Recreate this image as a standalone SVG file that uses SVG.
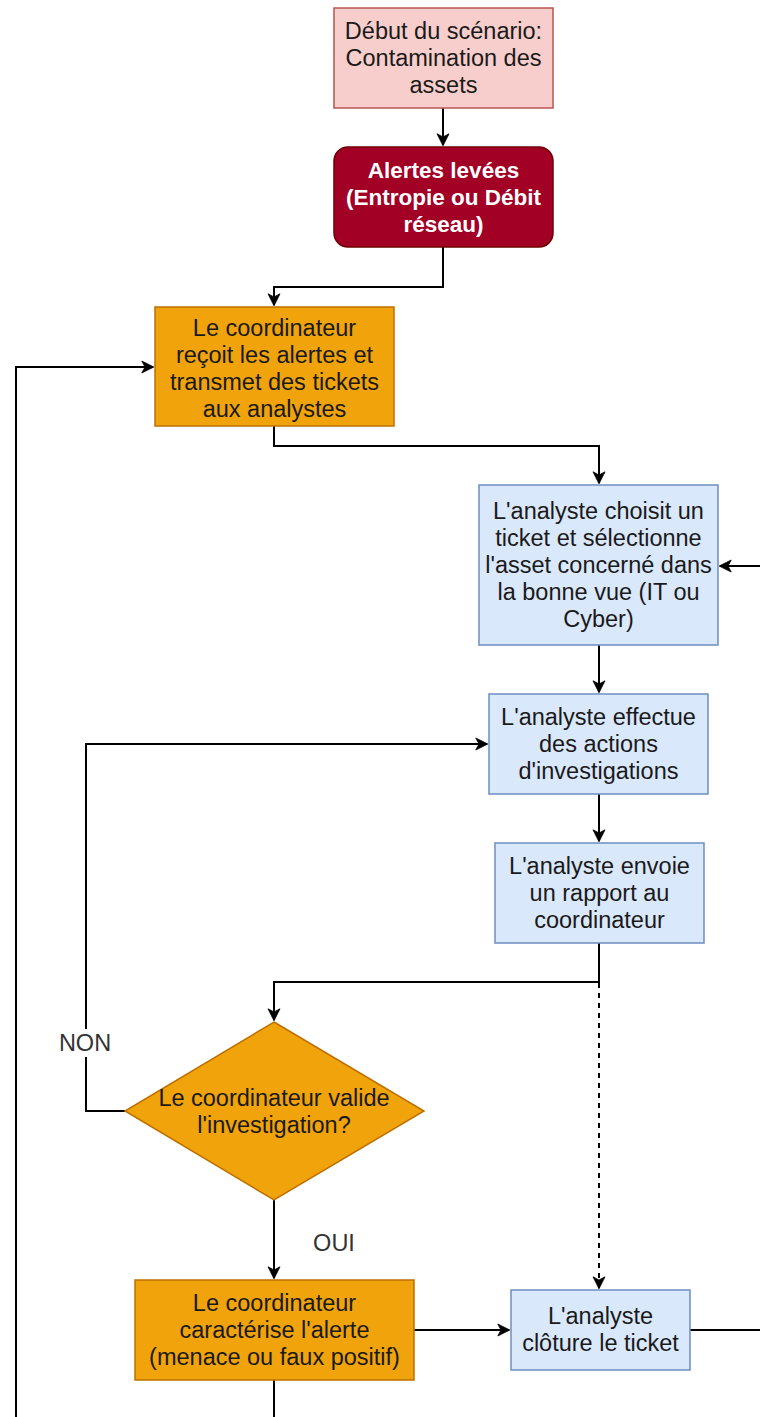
<svg xmlns="http://www.w3.org/2000/svg" width="760" height="1417" viewBox="0 0 760 1417">
<style>
text{font-family:"Liberation Sans",Arial,sans-serif;font-size:23.5px;text-anchor:middle;fill:#1a1a1a}
.pink{fill:#f8cecc;stroke:#b85450;stroke-width:1.5}
.red{fill:#a20025;stroke:#6f0000;stroke-width:1.5}
.orange{fill:#f0a30a;stroke:#bd7000;stroke-width:1.5}
.blue{fill:#dae8fc;stroke:#6c8ebf;stroke-width:1.5}
.w{fill:#ffffff;font-weight:bold;font-size:22.5px}
.lbl{fill:#333333}
.c{fill:none;stroke:#000;stroke-width:2;marker-end:url(#arr)}
.cn{fill:none;stroke:#000;stroke-width:2}
.d{stroke-dasharray:5 5}
</style>
<defs>
<marker id="arr" viewBox="0 0 10 10" refX="9" refY="5" markerWidth="8" markerHeight="8" markerUnits="userSpaceOnUse" orient="auto" overflow="visible">
<path d="M-5,-2.5 L10,5 L-5,12.5 L-1,5 Z" fill="#000" stroke="#000" stroke-width="1"/>
</marker>
</defs>
<g id="connectors">
<path class="c" d="M443,108 L443,145"/>
<path class="c" d="M443,247 L443,287 L274,287 L274,305"/>
<path class="c" d="M274,426 L274,446 L599,446 L599,483"/>
<path class="c" d="M762,566 L720,566"/>
<path class="c" d="M599,645 L599,692"/>
<path class="c" d="M599,794 L599,841"/>
<path class="c" d="M599,943 L599,982 L274,982 L274,1020"/>
<path class="c d" d="M599,943 L599,1288"/>
<path class="c" d="M125,1111 L86,1111 L86,744 L487,744"/>
<path class="c" d="M274,1200 L274,1278"/>
<path class="c" d="M414,1330 L509,1330"/>
<path class="cn" d="M690,1330 L762,1330"/>
<path class="cn" d="M274,1380 L274,1420"/>
<path class="c" d="M16,1420 L16,367 L153,367"/>
<rect x="56" y="1029" width="60" height="28" fill="#ffffff"/>
<text class="lbl" x="85" y="1051">NON</text>
<text class="lbl" x="334" y="1251">OUI</text>
</g>
<g id="n1">
<rect class="pink" x="334" y="8" width="219" height="100"/>
<text x="443.5" y="39">Début du scénario:</text>
<text x="443.5" y="66">Contamination des</text>
<text x="443.5" y="93">assets</text>
</g>
<g id="n2">
<rect class="red" x="334" y="147" width="219" height="100" rx="14"/>
<text class="w" x="443.5" y="178">Alertes levées</text>
<text class="w" x="443.5" y="205">(Entropie ou Débit</text>
<text class="w" x="443.5" y="232">réseau)</text>
</g>
<g id="n3">
<rect class="orange" x="155" y="307" width="239" height="119"/>
<text x="274.5" y="336">Le coordinateur</text>
<text x="274.5" y="363">reçoit les alertes et</text>
<text x="274.5" y="390">transmet des tickets</text>
<text x="274.5" y="417">aux analystes</text>
</g>
<g id="n4">
<rect class="blue" x="479" y="485" width="239" height="160"/>
<text x="598.5" y="519">L'analyste choisit un</text>
<text x="598.5" y="546">ticket et sélectionne</text>
<text x="598.5" y="573">l'asset concerné dans</text>
<text x="598.5" y="600">la bonne vue (IT ou</text>
<text x="598.5" y="627">Cyber)</text>
</g>
<g id="n5">
<rect class="blue" x="489" y="694" width="219" height="100"/>
<text x="598.5" y="725">L'analyste effectue</text>
<text x="598.5" y="752">des actions</text>
<text x="598.5" y="779">d'investigations</text>
</g>
<g id="n6">
<rect class="blue" x="495" y="843" width="209" height="100"/>
<text x="599.5" y="874">L'analyste envoie</text>
<text x="599.5" y="901">un rapport au</text>
<text x="599.5" y="928">coordinateur</text>
</g>
<g id="n7">
<path class="orange" d="M274,1022 L424,1111 L274,1200 L125,1111 Z"/>
<text x="274" y="1106">Le coordinateur valide</text>
<text x="274" y="1133">l'investigation?</text>
</g>
<g id="n8">
<rect class="orange" x="135" y="1280" width="279" height="100"/>
<text x="274.5" y="1311">Le coordinateur</text>
<text x="274.5" y="1338">caractérise l'alerte</text>
<text x="274.5" y="1365">(menace ou faux positif)</text>
</g>
<g id="n9">
<rect class="blue" x="511" y="1290" width="179" height="80"/>
<text x="600.5" y="1324">L'analyste</text>
<text x="600.5" y="1351">clôture le ticket</text>
</g>
</svg>
